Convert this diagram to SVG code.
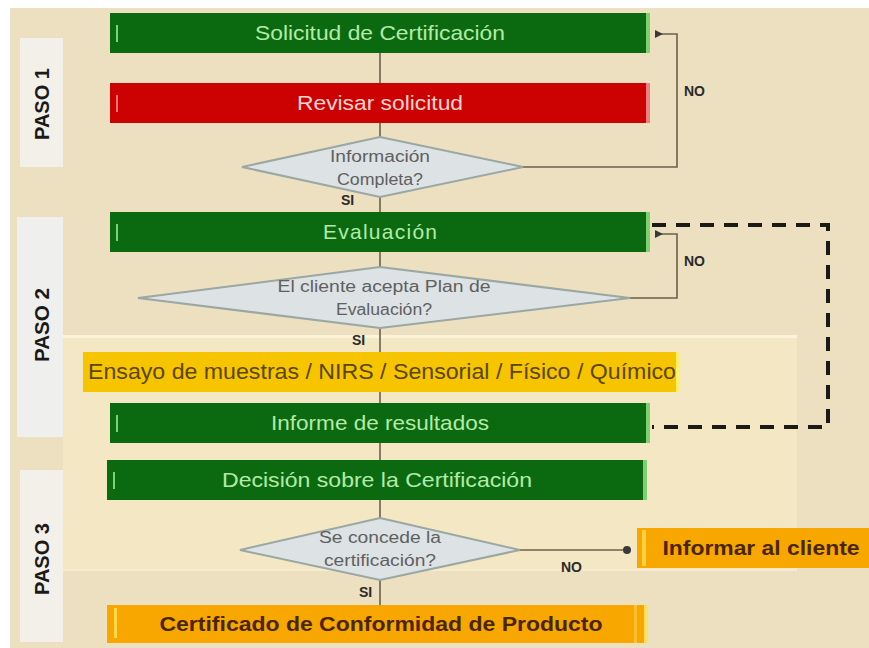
<svg xmlns="http://www.w3.org/2000/svg" width="869" height="648" viewBox="0 0 869 648">
<style>
.bar-g{fill:#0b6a10}
.edge-g{fill:#7fd06f}
.txt-g{font-family:"Liberation Sans",Arial,sans-serif;font-size:21px;fill:#b4eaa8;text-anchor:middle}
.dia{fill:#dde2e4;stroke:#9aa7a3;stroke-width:2}
.txt-d{font-family:"Liberation Sans",Arial,sans-serif;font-size:16px;fill:#606060;text-anchor:middle}
.lbl{font-family:"Liberation Sans",Arial,sans-serif;font-size:14px;font-weight:bold;fill:#2a2a2a}
.paso{font-family:"Liberation Sans",Arial,sans-serif;font-size:20px;font-weight:bold;fill:#1a1a1a;text-anchor:middle}
.conn{fill:none;stroke:#6b604a;stroke-width:1.6}
.orange{fill:#f8a600}
.txt-o{font-family:"Liberation Sans",Arial,sans-serif;font-size:21px;font-weight:bold;fill:#4a2600;text-anchor:middle}
</style>
<defs>
<marker id="dot" viewBox="0 0 6 6" refX="3" refY="3" markerWidth="5" markerHeight="5" orient="auto">
<path d="M6,0 L0,3 L6,6 Z" fill="#3a3a3a"/>
</marker>
<marker id="dot2" viewBox="0 0 6 6" refX="3" refY="3" markerWidth="5" markerHeight="5">
<circle cx="3" cy="3" r="3" fill="#3a3a3a"/>
</marker>
</defs>
<rect x="0" y="0" width="869" height="648" fill="#ffffff"/>
<rect x="10" y="8" width="859" height="640" fill="#ece0c0"/>
<rect x="63" y="336" width="734" height="234" fill="#f4e7c3"/>
<line x1="63" y1="336.5" x2="797" y2="336.5" stroke="#fbf3dc" stroke-width="3"/>
<line x1="63" y1="570" x2="797" y2="570" stroke="#f6ebcf" stroke-width="2"/>

<g id="paso1"><rect x="20" y="38" width="43" height="129" fill="#f3f0ea"/><text class="paso" transform="translate(49,104) rotate(-90)" textLength="72" lengthAdjust="spacingAndGlyphs">PASO 1</text></g>
<g id="paso2"><rect x="17" y="217" width="46" height="220" fill="#efefed"/><text class="paso" transform="translate(49,325) rotate(-90)" textLength="74" lengthAdjust="spacingAndGlyphs">PASO 2</text></g>
<g id="paso3"><rect x="20" y="470" width="43" height="172" fill="#f3f0ea"/><text class="paso" transform="translate(49,559) rotate(-90)" textLength="72" lengthAdjust="spacingAndGlyphs">PASO 3</text></g>

<g id="connectors">
<line class="conn" x1="380" y1="53" x2="380" y2="605"/>
<polyline class="conn" points="523,167 677,167 677,34 659,34" marker-end="url(#dot)"/>
<polyline class="conn" points="630,298 677,298 677,234 659,234" marker-end="url(#dot)"/>
<polyline class="conn" points="520,550 627,550" marker-end="url(#dot2)"/>
<polyline points="652,225 828,225 828,427 652,427" fill="none" stroke="#1c1a16" stroke-width="4" stroke-dasharray="14 10"/>
<text class="lbl" x="684" y="96">NO</text>
<text class="lbl" x="684" y="266">NO</text>
<text class="lbl" x="561" y="572">NO</text>
<text class="lbl" x="341" y="205">SI</text>
<text class="lbl" x="352" y="345">SI</text>
<text class="lbl" x="359" y="597">SI</text>
</g>

<g id="solicitud"><rect class="bar-g" x="110" y="13" width="540" height="40"/><rect class="edge-g" x="646" y="13" width="4" height="40"/><rect class="edge-g" x="116" y="25" width="2" height="17"/><text class="txt-g" x="380" y="40" textLength="250" lengthAdjust="spacingAndGlyphs">Solicitud de Certificación</text></g>
<g id="revisar"><rect x="110" y="83" width="540" height="40" fill="#cc0202"/><rect x="646" y="83" width="4" height="40" fill="#f08080"/><rect x="116" y="95" width="2" height="17" fill="#f07070"/><text x="380" y="110" font-family="Liberation Sans,Arial,sans-serif" font-size="21" fill="#ffd6d0" text-anchor="middle" textLength="166" lengthAdjust="spacingAndGlyphs">Revisar solicitud</text></g>
<g id="info-completa"><polygon class="dia" points="380,137 523,167 380,197 242,167"/><text class="txt-d" x="380" y="162" textLength="100" lengthAdjust="spacingAndGlyphs">Información</text><text class="txt-d" x="380" y="185" textLength="86" lengthAdjust="spacingAndGlyphs">Completa?</text></g>
<g id="evaluacion"><rect class="bar-g" x="110" y="212" width="540" height="40"/><rect class="edge-g" x="646" y="212" width="4" height="40"/><rect class="edge-g" x="116" y="224" width="2" height="17"/><text class="txt-g" x="380" y="239" textLength="114">Evaluación</text></g>
<g id="acepta-plan"><polygon class="dia" points="380,267 630,298 380,328 138,298"/><text class="txt-d" x="384" y="292" textLength="213" lengthAdjust="spacingAndGlyphs">El  cliente acepta Plan de</text><text class="txt-d" x="384" y="315" textLength="96" lengthAdjust="spacingAndGlyphs">Evaluación?</text></g>
<g id="ensayo"><rect x="83" y="352" width="597" height="40" fill="#f7c500"/><rect x="676" y="352" width="4" height="40" fill="#fff06a"/><text x="382" y="379" font-family="Liberation Sans,Arial,sans-serif" font-size="22" fill="#5a4600" text-anchor="middle" textLength="588" lengthAdjust="spacingAndGlyphs">Ensayo de muestras / NIRS / Sensorial  / Físico / Químico</text></g>
<g id="informe"><rect class="bar-g" x="110" y="403" width="540" height="40"/><rect class="edge-g" x="646" y="403" width="4" height="40"/><rect class="edge-g" x="116" y="415" width="2" height="17"/><text class="txt-g" x="380" y="430" textLength="218" lengthAdjust="spacingAndGlyphs">Informe de resultados</text></g>
<g id="decision"><rect class="bar-g" x="107" y="460" width="540" height="40"/><rect class="edge-g" x="643" y="460" width="4" height="40"/><rect class="edge-g" x="113" y="472" width="2" height="17"/><text class="txt-g" x="377" y="487" textLength="310" lengthAdjust="spacingAndGlyphs">Decisión sobre  la Certificación</text></g>
<g id="concede"><polygon class="dia" points="380,518 520,550 380,580 240,550"/><text class="txt-d" x="380" y="543" textLength="122" lengthAdjust="spacingAndGlyphs">Se concede la</text><text class="txt-d" x="380" y="566" textLength="112" lengthAdjust="spacingAndGlyphs">certificación?</text></g>
<g id="informar"><rect class="orange" x="637" y="528" width="232" height="40"/><rect x="642" y="530" width="4" height="36" fill="#ffd040"/><text class="txt-o" x="761" y="555" textLength="197" lengthAdjust="spacingAndGlyphs">Informar al cliente</text></g>
<g id="certificado"><rect class="orange" x="107" y="605" width="541" height="38"/><rect x="114" y="608" width="3" height="30" fill="#ffd848"/><rect x="634" y="605" width="3" height="38" fill="#ffc030"/><rect x="644" y="605" width="4" height="38" fill="#ffe060"/><text class="txt-o" x="381" y="631" textLength="443" lengthAdjust="spacingAndGlyphs">Certificado de Conformidad de Producto</text></g>
</svg>
